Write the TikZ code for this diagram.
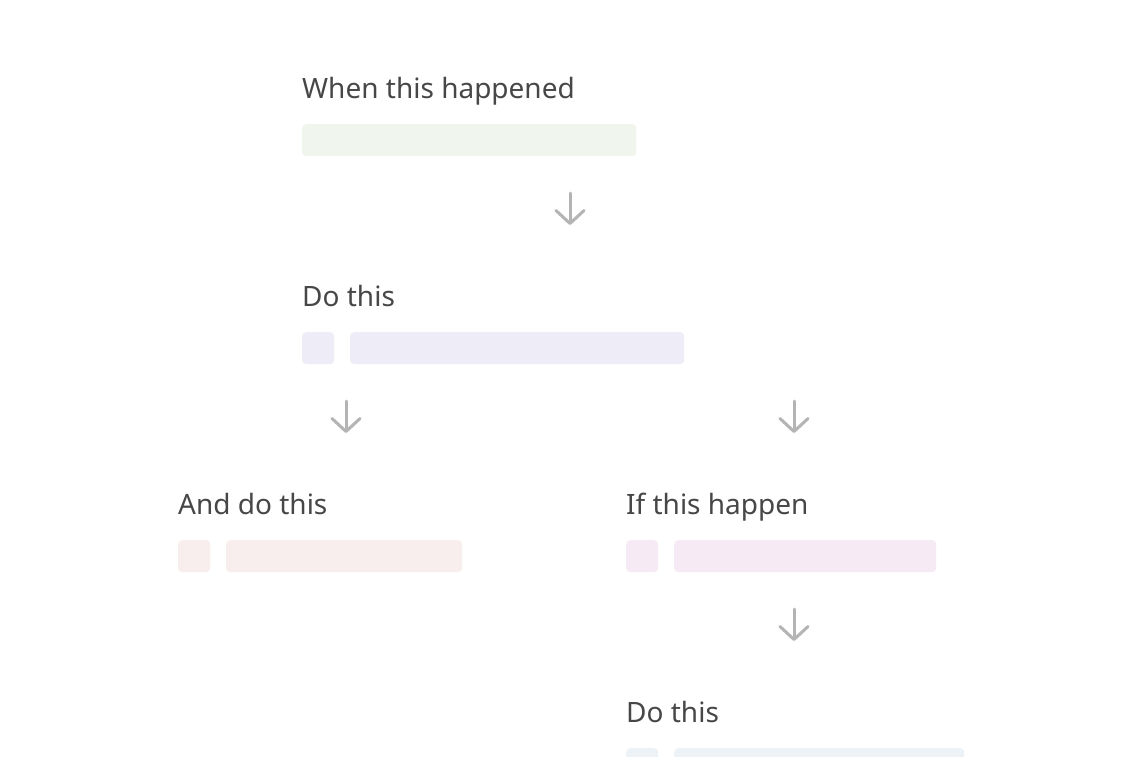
\documentclass[tikz,border=0pt]{standalone}
\usepackage{fontspec}
\setmainfont{Noto Sans}
\usepackage{xcolor}
\usetikzlibrary{arrows.meta}
\definecolor{labelgray}{HTML}{474747}
\definecolor{arrowgray}{HTML}{B4B4B4}
\definecolor{trigfill}{HTML}{F0F5EE}
\definecolor{actfill}{HTML}{EEEDF7}
\definecolor{andfill}{HTML}{F7EEED}
\definecolor{iffill}{HTML}{F6EBF5}
\definecolor{lastfill}{HTML}{EDF2F7}

\begin{document}
\begin{tikzpicture}[x=1pt, y=-1pt,
  steplabel/.style={anchor=base west, inner sep=0pt, font=\fontsize{28}{32}\selectfont, text=labelgray},
  bar/.style={anchor=north west, inner sep=0pt, minimum height=32pt, rounded corners=4pt, fill=#1},
  chip/.style={bar=#1, minimum width=32pt},
  flow/.style={draw=arrowgray, line width=3pt, line cap=round, line join=round,
    -{Straight Barb[length=13pt, width=28pt, line cap=round, line join=round]}}]
  \clip (0,0) rectangle (1140,756);
  \fill[white] (0,0) rectangle (1140,756);

  % trigger
  \node[steplabel] (trigLabel) at (302,98) {When this happened};
  \node[bar=trigfill, minimum width=334pt] (trigBar) at (302,124) {};
  \coordinate (a1s) at (570,193);
  \coordinate (a1e) at (570,225);
  \draw[flow] (a1s) -- (a1e);

  % first action
  \node[steplabel] (actLabel) at (302,306) {Do this};
  \node[chip=actfill] (actChip) at (302,332) {};
  \node[bar=actfill, minimum width=334pt] (actBar) at (350,332) {};
  \coordinate (a2s) at (346,401);
  \coordinate (a2e) at (346,433);
  \coordinate (a3s) at (794,401);
  \coordinate (a3e) at (794,433);
  \draw[flow] (a2s) -- (a2e);
  \draw[flow] (a3s) -- (a3e);

  % left branch
  \node[steplabel] (andLabel) at (178,514) {And do this};
  \node[chip=andfill] (andChip) at (178,540) {};
  \node[bar=andfill, minimum width=236pt] (andBar) at (226,540) {};

  % right branch
  \node[steplabel] (ifLabel) at (626,514) {If this happen};
  \node[chip=iffill] (ifChip) at (626,540) {};
  \node[bar=iffill, minimum width=262pt] (ifBar) at (674,540) {};
  \coordinate (a4s) at (794,609);
  \coordinate (a4e) at (794,641);
  \draw[flow] (a4s) -- (a4e);

  \node[steplabel] (lastLabel) at (626,722) {Do this};
  \node[chip=lastfill] (lastChip) at (626,748) {};
  \node[bar=lastfill, minimum width=290pt] (lastBar) at (674,748) {};
\end{tikzpicture}
\end{document}
